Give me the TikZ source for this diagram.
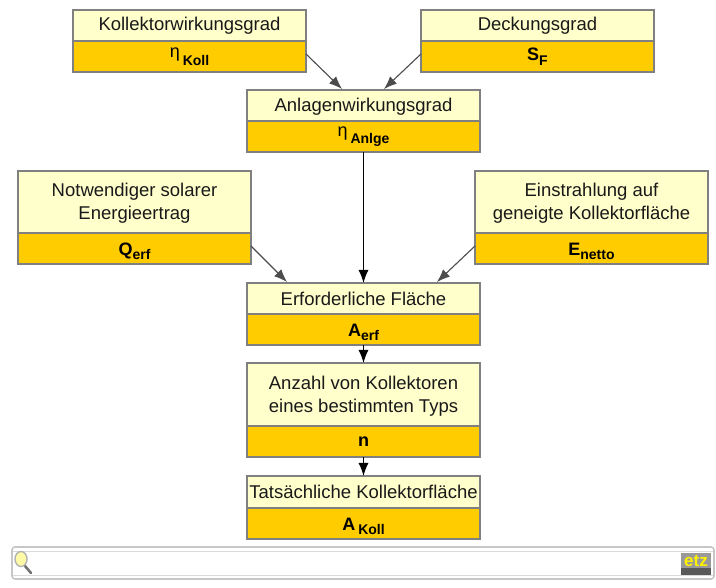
\documentclass[tikz,border=0pt]{standalone}
\usepackage{fontspec}
\setmainfont{Liberation Sans}
\usetikzlibrary{arrows.meta}
\definecolor{pale}{HTML}{FFFFCC}
\definecolor{gold}{HTML}{FFCC00}
\definecolor{edge}{HTML}{808080}
\tikzset{x=1pt,y=-1pt,
 base/.style={draw=edge,line width=1.4pt,minimum width=233pt,inner sep=0pt,outer sep=0pt,text=black!90,align=center},
 headbox/.style={base,fill=pale,font=\fontsize{18.5}{23}\selectfont},
 valbox/.style={base,fill=gold,font=\fontsize{18}{20}\selectfont\bfseries,text=black},
 flow/.style={draw=black!70,line width=1.1pt,-{Latex[length=13pt,width=10pt]}},
 vflow/.style={draw=black,line width=1.3pt,-{Latex[length=13pt,width=10pt]}},
 bar/.style={draw=black!22,line width=1.6pt,rounded corners=3pt}}
\newcommand{\sbs}[1]{\raisebox{-4.5pt}{\fontsize{14}{16}\selectfont #1}}
\newcommand{\etasym}{\raisebox{3pt}{\normalfont\fontsize{18}{20}\selectfont η}}
\newcommand{\lowv}{\rule{0pt}{18pt}}
\newcommand{\twobox}[7]{% name, x-left, y-top, y-mid, y-bot, head, value
 \node[headbox,minimum height=#4pt-#3pt,anchor=north west] (#1h) at (#2,#3) {#6};
 \node[valbox,minimum height=#5pt-#4pt,anchor=north west] (#1v) at (#2,#4) {#7};
}
\begin{document}
\begin{tikzpicture}
\useasboundingbox (0,0) rectangle (716,588);
\fill[white] (0,0) rectangle (716,588);
\twobox{k}{73}{10}{41}{72}{Kollektorwirkungsgrad}{\etasym\,\sbs{Koll}}
\twobox{d}{421}{10}{41}{72}{Deckungsgrad}{S\sbs{F}}
\twobox{a}{247}{90}{121}{152}{\rule{0pt}{15pt}Anlagenwirkungsgrad}{\etasym\,\sbs{Anlge}}
\twobox{n}{18}{171}{233}{264}{\rule{0pt}{16pt}Notwendiger solarer\\Energieertrag}{\lowv Q\sbs{erf}}
\twobox{e}{475}{171}{233}{264}{\rule{0pt}{16pt}Einstrahlung auf\\geneigte Kollektorfläche}{\lowv E\sbs{netto}}
\twobox{f}{247}{283}{314}{345}{Erforderliche Fläche}{\lowv A\sbs{erf}}
\twobox{z}{247}{363}{426}{457}{\rule{0pt}{16pt}Anzahl von Kollektoren\\eines bestimmten Typs}{n}
\twobox{t}{247}{476}{508}{539}{Tatsächliche Kollektorfläche}{\lowv A\,\sbs{Koll}}
\coordinate (a1) at (342,89);
\coordinate (a2) at (384,89);
\coordinate (f1) at (287,282);
\coordinate (f2) at (437,282);
\coordinate (k0) at (306,54);
\coordinate (d0) at (421,54);
\coordinate (n0) at (251,246);
\coordinate (e0) at (475,246);
\draw[flow] (k0) -- (a1);
\draw[flow] (d0) -- (a2);
\draw[flow] (n0) -- (f1);
\draw[flow] (e0) -- (f2);
\draw[vflow] (av.south) -- (fh.north);
\draw[vflow] (fv.south) -- (zh.north);
\draw[vflow] (zv.south) -- (th.north);
% search bar
\draw[bar] (12,547) rectangle (714,579);
\draw[draw=black!14,line width=1pt] (13,551) -- (713,551) (13,575) -- (713,575);
% magnifier
\draw[draw=black!55,line width=2.6pt,line cap=round] (25,566) -- (31,573);
\draw[draw=black!30,fill=yellow!35,line width=1.4pt] (21,559) ellipse (6 and 7.5);
% logo
\fill[black!40] (681,553) rectangle (711,568);
\fill[black!65] (681,568) rectangle (711,575);
\node[inner sep=0pt,text=yellow,font=\fontsize{17}{17}\selectfont\bfseries] (logo) at (696,561) {etz};
\end{tikzpicture}
\end{document}
